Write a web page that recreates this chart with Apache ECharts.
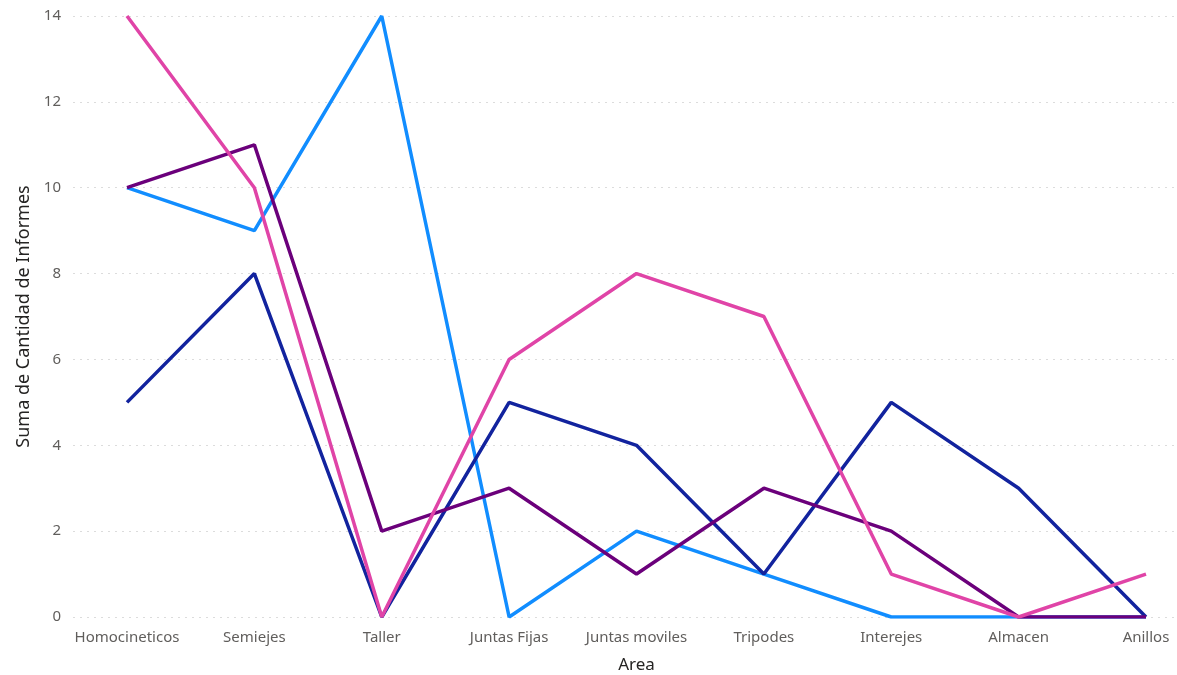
<!DOCTYPE html>
<html>
<head>
<meta charset="utf-8">
<script src="https://cdn.jsdelivr.net/npm/echarts@6/dist/echarts.min.js"></script>
<style>
  html, body { margin: 0; padding: 0; background: #fff; }
  #main { width: 1177px; height: 675px; }
</style>
</head>
<body>
<div id="main"></div>
<script>
var areas = ['Homocineticos', 'Semiejes', 'Taller', 'Juntas Fijas', 'Juntas moviles', 'Tripodes', 'Interejes', 'Almacen', 'Anillos'];

// four series, colours as in the picture
var serieCeleste = [10, 9, 14, 0, 2, 1, 0, 0, 0];
var serieAzul    = [5, 8, 0, 5, 4, 1, 5, 3, 0];
var serieMorado  = [10, 11, 2, 3, 1, 3, 2, 0, 0];
var serieRosa    = [14, 10, 0, 6, 8, 7, 1, 0, 1];

var yTicks = { min: 0, max: 14, interval: 2 };

var font = '"Noto Sans", "Open Sans", sans-serif';
var chart = echarts.init(document.getElementById('main'));

function lineSerie(name, data, color) {
  return {
    name: name,
    type: 'line',
    xAxisIndex: 1,
    yAxisIndex: 1,
    data: data,
    symbol: 'none',
    lineStyle: { width: 3.5, color: color },
    itemStyle: { color: color },
    z: 2
  };
}

chart.setOption({
  animation: false,
  grid: [
    // wide grid only for the dotted lines and y labels
    { left: 73, right: 2, top: 16, bottom: 58, outerBoundsMode: 'none' },
    // data grid
    { left: 127, right: 31, top: 16, bottom: 58, outerBoundsMode: 'none' }
  ],
  xAxis: [
    { type: 'category', gridIndex: 0, data: areas, show: false },
    {
      type: 'category', gridIndex: 1, data: areas, boundaryGap: false,
      axisLine: { show: false }, axisTick: { show: false },
      axisLabel: { color: '#605E5C', fontSize: 15, fontFamily: font, margin: 13, interval: 0, hideOverlap: false },
      name: 'Area', nameLocation: 'middle', nameGap: 40,
      nameTextStyle: { color: '#252423', fontSize: 17, fontFamily: font }
    }
  ],
  yAxis: [
    {
      type: 'value', gridIndex: 0, min: yTicks.min, max: yTicks.max, interval: yTicks.interval,
      axisLine: { show: false }, axisTick: { show: false },
      axisLabel: { color: '#605E5C', fontSize: 15, fontFamily: font, margin: 12 },
      splitLine: { lineStyle: { color: '#DCDCDC', type: [2, 5], width: 1 } },
      name: 'Suma de Cantidad de Informes', nameLocation: 'middle', nameGap: 37,
      nameTextStyle: { color: '#252423', fontSize: 18, fontFamily: font }
    },
    {
      type: 'value', gridIndex: 1, min: yTicks.min, max: yTicks.max, interval: yTicks.interval,
      show: false, splitLine: { show: false }
    }
  ],
  series: [
    lineSerie('Celeste', serieCeleste, '#118DFF'),
    lineSerie('Azul', serieAzul, '#12239E'),
    lineSerie('Morado', serieMorado, '#6B007B'),
    lineSerie('Rosa', serieRosa, '#E044A7')
  ]
});
</script>
</body>
</html>
